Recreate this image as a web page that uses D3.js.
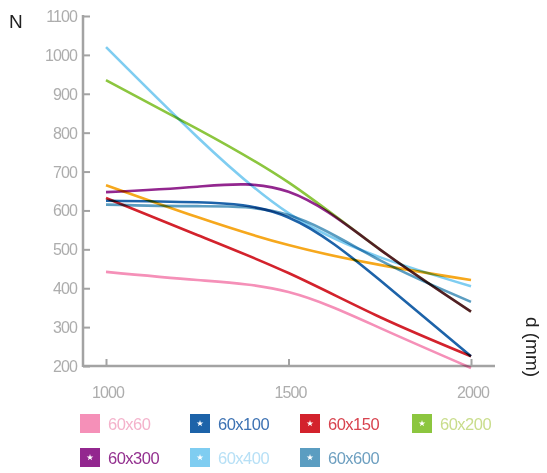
<!DOCTYPE html>
<html>
<head>
<meta charset="utf-8">
<script src="https://cdn.jsdelivr.net/npm/d3@7"></script>
<style>
  body { margin: 0; background: #fff; }
  svg { display: block; }
  .tick-label { font-family: "Liberation Sans", Arial, sans-serif; font-size: 16px; fill: #adadad; letter-spacing: -0.9px; }
  .legend-label { font-family: "Liberation Sans", Arial, sans-serif; font-size: 16.5px; letter-spacing: -0.5px; }
  .axis-title { font-family: "Liberation Sans", Arial, sans-serif; font-size: 19px; fill: #222; }
</style>
</head>
<body>
<svg id="chart" width="547" height="473"></svg>
<script>

// d (mm) at which each series is read
var distances = [1000, 1250, 1500, 1750, 2000];
var xTicks = [1000, 1500, 2000];
var yTicks = [200, 300, 400, 500, 600, 700, 800, 900, 1000, 1100];

// N, one value per distance
var n60x60  = [442, 421, 390, 298, 195];
var n60x100 = [625, 621, 582, 421, 225];
var n60x150 = [632, 537, 439, 326, 225];
var n60x200 = [935, 810, 672, 500, 340];
var n60x300 = [647, 661, 648, 500, 340];
var n60x400 = [1020, 789, 593, 480, 405];
var n60x600 = [615, 611, 588, 472, 365];
var nOrange = [665, 583, 511, 460, 421];

var seriesNames  = ['60x60', '60x100', '60x150', '60x200', '60x300', '60x400', '60x600', ''];
var seriesColors = ['#f590b8', '#1d63a9', '#d3222c', '#8cc63f', '#93278f', '#7fcdf1', '#5b9dc1', '#f6a81d'];
var labelColors  = ['#f4b2cb', '#3d72b3', '#d8434f', '#c9dd8c', '#93308f', '#b7e0f6', '#6d9fc0'];

var series = [n60x60, n60x100, n60x150, n60x200, n60x300, n60x400, n60x600, nOrange];

var svg = d3.select('#chart');

var x = d3.scaleLinear().domain([1000, 2000]).range([106, 471]);
var y = d3.scaleLinear().domain([200, 1100]).range([366, 16]);

var axisColor = '#a3a3a3';

// y axis
var yAxis = svg.append('g').attr('transform', 'translate(83,0)')
  .call(d3.axisRight(y).tickValues(yTicks).tickSize(7).tickFormat(''));
yAxis.select('.domain').remove();
yAxis.selectAll('line').attr('stroke', axisColor).attr('stroke-width', 2);
svg.append('line')
  .attr('x1', 83).attr('x2', 83).attr('y1', y(1100) - 1).attr('y2', y(200) + 1)
  .attr('stroke', axisColor).attr('stroke-width', 2.5);

svg.selectAll('.ylab').data(yTicks).enter().append('text')
  .attr('class', 'tick-label')
  .attr('x', 77).attr('y', function(d) { return y(d) + 6; })
  .attr('text-anchor', 'end')
  .text(function(d) { return d; });

// x axis
var xAxis = svg.append('g').attr('transform', 'translate(0,' + y(200) + ')')
  .call(d3.axisTop(x).tickValues(xTicks).tickSize(7).tickFormat(''));
xAxis.select('.domain').remove();
xAxis.selectAll('line').attr('stroke', axisColor).attr('stroke-width', 2);
svg.append('line')
  .attr('x1', 83).attr('x2', 495).attr('y1', y(200)).attr('y2', y(200))
  .attr('stroke', axisColor).attr('stroke-width', 2.5);

svg.selectAll('.xlab').data(xTicks).enter().append('text')
  .attr('class', 'tick-label')
  .attr('x', function(d) { return x(d) + 2; }).attr('y', 398)
  .attr('text-anchor', 'middle')
  .text(function(d) { return d; });

// lines
var line = d3.line()
  .x(function(d, i) { return x(distances[i]); })
  .y(function(d) { return y(d); })
  .curve(d3.curveNatural);

var order = [0, 2, 6, 1, 5, 7, 3, 4];
svg.append('g').selectAll('path').data(order).enter().append('path')
  .attr('d', function(i) { return line(series[i]); })
  .attr('fill', 'none')
  .attr('stroke', function(i) { return seriesColors[i]; })
  .attr('stroke-width', 2.6)
  .style('mix-blend-mode', 'multiply');

// axis titles
svg.append('text').attr('class', 'axis-title').attr('x', 9).attr('y', 28).text('N');
svg.append('text').attr('class', 'axis-title')
  .attr('transform', 'translate(526,347) rotate(90)')
  .attr('text-anchor', 'middle')
  .text('d (mm)');

// legend
var legendItems = seriesNames.slice(0, 7);
var legend = svg.append('g').selectAll('g').data(legendItems).enter().append('g')
  .attr('transform', function(d, i) {
    return 'translate(' + [80, 190, 300, 412][i % 4] + ',' + (i < 4 ? 414 : 448) + ')';
  });

legend.append('rect')
  .attr('width', 20).attr('height', 19)
  .attr('fill', function(d, i) { return seriesColors[i]; });

legend.filter(function(d, i) { return i > 0; }).append('path')
  .attr('transform', 'translate(10,9.5)')
  .attr('d', d3.symbol().type(d3.symbolStar).size(14))
  .attr('fill', '#fff');

legend.append('text')
  .attr('class', 'legend-label')
  .attr('x', 28).attr('y', 16)
  .attr('fill', function(d, i) { return labelColors[i]; })
  .text(function(d) { return d; });

</script>
</body>
</html>
